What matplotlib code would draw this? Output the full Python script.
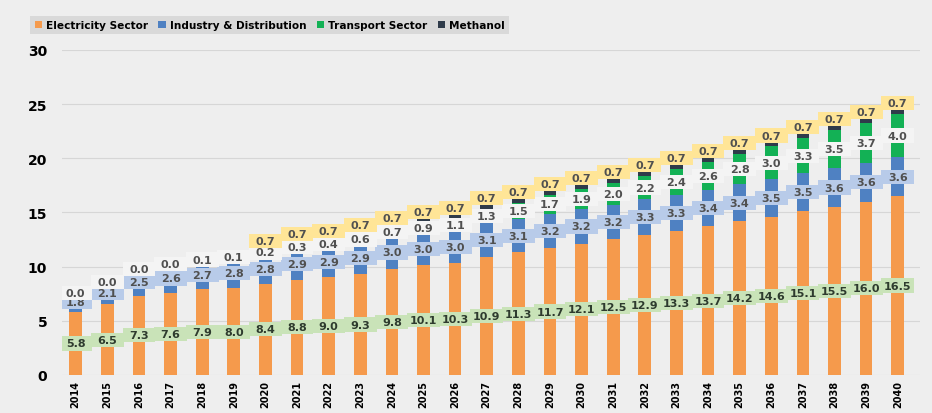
import matplotlib.pyplot as plt
from matplotlib.patches import Rectangle
import numpy as np

# stacked bars per year, values as printed in the data labels
years = [str(y) for y in range(2014, 2041)]
electricity = [5.8, 6.5, 7.3, 7.6, 7.9, 8.0, 8.4, 8.8, 9.0, 9.3, 9.8, 10.1, 10.3, 10.9,
               11.3, 11.7, 12.1, 12.5, 12.9, 13.3, 13.7, 14.2, 14.6, 15.1, 15.5, 16.0, 16.5]
industry = [1.8, 2.1, 2.5, 2.6, 2.7, 2.8, 2.8, 2.9, 2.9, 2.9, 3.0, 3.0, 3.0, 3.1,
            3.1, 3.2, 3.2, 3.2, 3.3, 3.3, 3.4, 3.4, 3.5, 3.5, 3.6, 3.6, 3.6]
transport = [0.0, 0.0, 0.0, 0.0, 0.1, 0.1, 0.2, 0.3, 0.4, 0.6, 0.7, 0.9, 1.1, 1.3,
             1.5, 1.7, 1.9, 2.0, 2.2, 2.4, 2.6, 2.8, 3.0, 3.3, 3.5, 3.7, 4.0]
methanol = [0.0, 0.0, 0.0, 0.0, 0.0, 0.0, 0.7, 0.7, 0.7, 0.7, 0.7, 0.7, 0.7, 0.7,
            0.7, 0.7, 0.7, 0.7, 0.7, 0.7, 0.7, 0.7, 0.7, 0.7, 0.7, 0.7, 0.7]

series = [
    ("Electricity Sector", electricity, "#f59a4c", "#c9e3b8"),
    ("Industry & Distribution", industry, "#4f81c2", "#b8cbe9"),
    ("Transport Sector", transport, "#13b155", "#f4f4f4"),
    ("Methanol", methanol, "#2f3b4a", "#ffe597"),
]

bg = "#eeeeee"
fig = plt.figure(figsize=(9.32, 4.14), dpi=100, facecolor=bg)
ax = fig.add_axes([0.067, 0.092, 0.92, 0.785], facecolor=bg)

x = np.arange(len(years))
bottom = np.zeros(len(years))
handles = []
for i, (name, vals, color, boxc) in enumerate(series):
    vals = np.array(vals)
    h = ax.bar(x, vals, 0.4, bottom=bottom, color=color, label=name, zorder=2)
    handles.append(h)
    for j in range(len(years)):
        if name == "Methanol":
            if vals[j] == 0:
                continue
            yc = bottom[j] + vals[j] + 0.3
        else:
            yc = bottom[j] + vals[j] / 2
        ax.add_patch(Rectangle((x[j] - 0.52, yc - 0.65), 1.04, 1.3, facecolor=boxc,
                               edgecolor="none", zorder=3 + i))
        ax.text(x[j], yc, f"{vals[j]:.1f}", ha="center", va="center", fontsize=8,
                fontweight="bold", color="#2e3b2e" if i == 0 else "#505050", zorder=3 + i)
    bottom = bottom + vals

ax.set_ylim(0, 30)
ax.set_xlim(-0.42, len(years) - 0.3)
ax.set_yticks(range(0, 31, 5))
ax.set_xticks(x)
ax.set_xticklabels(years, rotation=90, fontsize=7, fontweight="bold")
for t in ax.get_yticklabels():
    t.set_fontweight("bold")
    t.set_fontsize(10)
ax.tick_params(length=0)
ax.tick_params(axis="y", pad=11)
ax.grid(axis="y", color="#d6d6d6", linewidth=0.8, zorder=0)
for s in ax.spines.values():
    s.set_visible(False)

leg = fig.legend(handles=handles, loc="upper left", bbox_to_anchor=(0.027, 0.972), ncol=4,
                 frameon=True, fancybox=False, handlelength=0.7, handleheight=0.7,
                 handletextpad=0.35, columnspacing=1.0, borderpad=0.4,
                 prop={"weight": "bold", "size": 7.6})
leg.get_frame().set_facecolor("#d9d9d9")
leg.get_frame().set_edgecolor("none")
leg.get_frame().set_alpha(1)

plt.savefig("out.png", dpi=100, facecolor=bg)
